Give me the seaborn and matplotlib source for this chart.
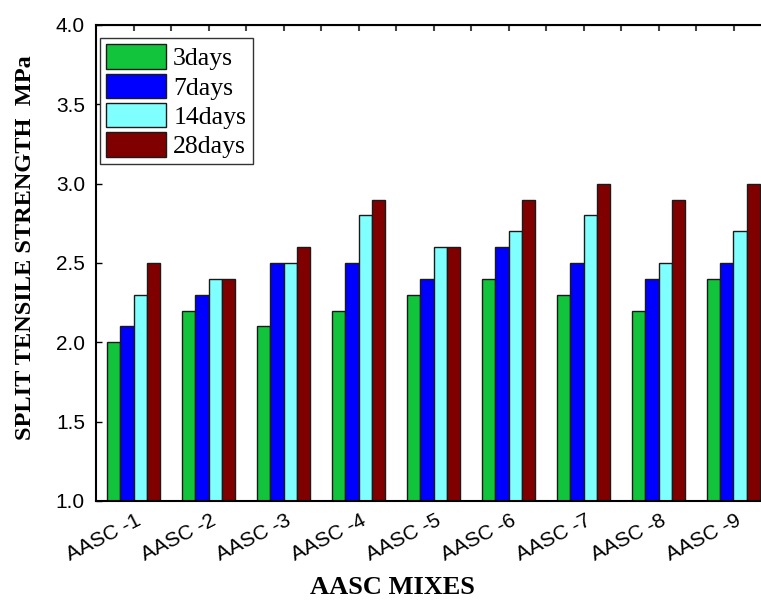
import pandas as pd
import seaborn as sns
import matplotlib.pyplot as plt
from matplotlib.transforms import ScaledTranslation

# Split tensile strength (MPa)
mixes = ['AASC -1', 'AASC -2', 'AASC -3', 'AASC -4', 'AASC -5',
         'AASC -6', 'AASC -7', 'AASC -8', 'AASC -9']
ages = ['3days', '7days', '14days', '28days']
day3 = [2.0, 2.2, 2.1, 2.2, 2.3, 2.4, 2.3, 2.2, 2.4]
day7 = [2.1, 2.3, 2.5, 2.5, 2.4, 2.6, 2.5, 2.4, 2.5]
day14 = [2.3, 2.4, 2.5, 2.8, 2.6, 2.7, 2.8, 2.5, 2.7]
day28 = [2.5, 2.4, 2.6, 2.9, 2.6, 2.9, 3.0, 2.9, 3.0]
yticks = [1.0, 1.5, 2.0, 2.5, 3.0, 3.5, 4.0]

colors = {'3days': '#12c43c', '7days': '#0000ff', '14days': '#80ffff', '28days': '#800000'}

df = pd.DataFrame({'mix': mixes, '3days': day3, '7days': day7,
                   '14days': day14, '28days': day28})
long_df = df.melt(id_vars='mix', var_name='age', value_name='strength')

sns.set_style('white')
plt.rcParams['font.family'] = ['Liberation Sans', 'DejaVu Sans']
plt.rcParams.update({'text.color': 'black', 'axes.labelcolor': 'black',
                     'xtick.color': 'black', 'ytick.color': 'black'})

fig = plt.figure(figsize=(7.61, 6.01), dpi=100)
ax = fig.add_axes([96 / 761, 100 / 601, 675 / 761, 476 / 601])

sns.barplot(data=long_df, x='mix', y='strength', hue='age', hue_order=ages,
            palette=colors, width=0.71, edgecolor='#1a1a1a', linewidth=1,
            saturation=1, ax=ax)

ax.set_ylim(1.0, 4.0)
ax.set_xlim(-0.5, 8.5)
ax.set_yticks(yticks)
ax.set_yticklabels([f'{t:.1f}' for t in yticks], fontsize=15)
ax.tick_params(axis='y', direction='in', length=4, width=1, left=True, pad=8)
ax.set_xticks(range(len(mixes)))
ax.set_xticklabels(mixes, rotation=27, ha='right', va='center',
                   rotation_mode='anchor', fontsize=15)
ax.tick_params(axis='x', length=0, pad=13)
shift = ScaledTranslation(6 / 100, 0, fig.dpi_scale_trans)
for lbl in ax.get_xticklabels():
    lbl.set_transform(lbl.get_transform() + shift)

# half-group ticks along the top spine
ax_top = ax.secondary_xaxis('top')
ax_top.set_xticks([i * 0.5 for i in range(18)])
ax_top.set_xticklabels([])
ax_top.tick_params(direction='in', length=4, width=1.5, color='#444444')

for side in ['left', 'bottom', 'top']:
    ax.spines[side].set_color('black')
    ax.spines[side].set_linewidth(1.5)
ax.spines['right'].set_visible(False)

ax.set_ylabel('SPLIT TENSILE STRENGTH  MPa', fontsize=17.5, fontweight='bold',
              family='Liberation Serif')
ax.yaxis.set_label_coords(-60 / 675, (501 - 248) / 476)
ax.set_xlabel('AASC MIXES', fontsize=19, fontweight='bold',
              family='Liberation Serif')
ax.xaxis.set_label_coords((392 - 96) / 675, -(588 - 501) / 476)
ax.xaxis.label.set_va('center')

leg = ax.legend(loc='upper left', bbox_to_anchor=(4 / 675, (501 - 38) / 476),
                frameon=True, fancybox=False, edgecolor='#333333', framealpha=1,
                prop={'family': 'Liberation Serif', 'size': 18.5},
                handlelength=2.3, handleheight=1.1, labelspacing=0.12,
                handletextpad=0.3, borderpad=0.25, borderaxespad=0)
leg.get_frame().set_linewidth(1)

fig.savefig('out.png', dpi=100)
